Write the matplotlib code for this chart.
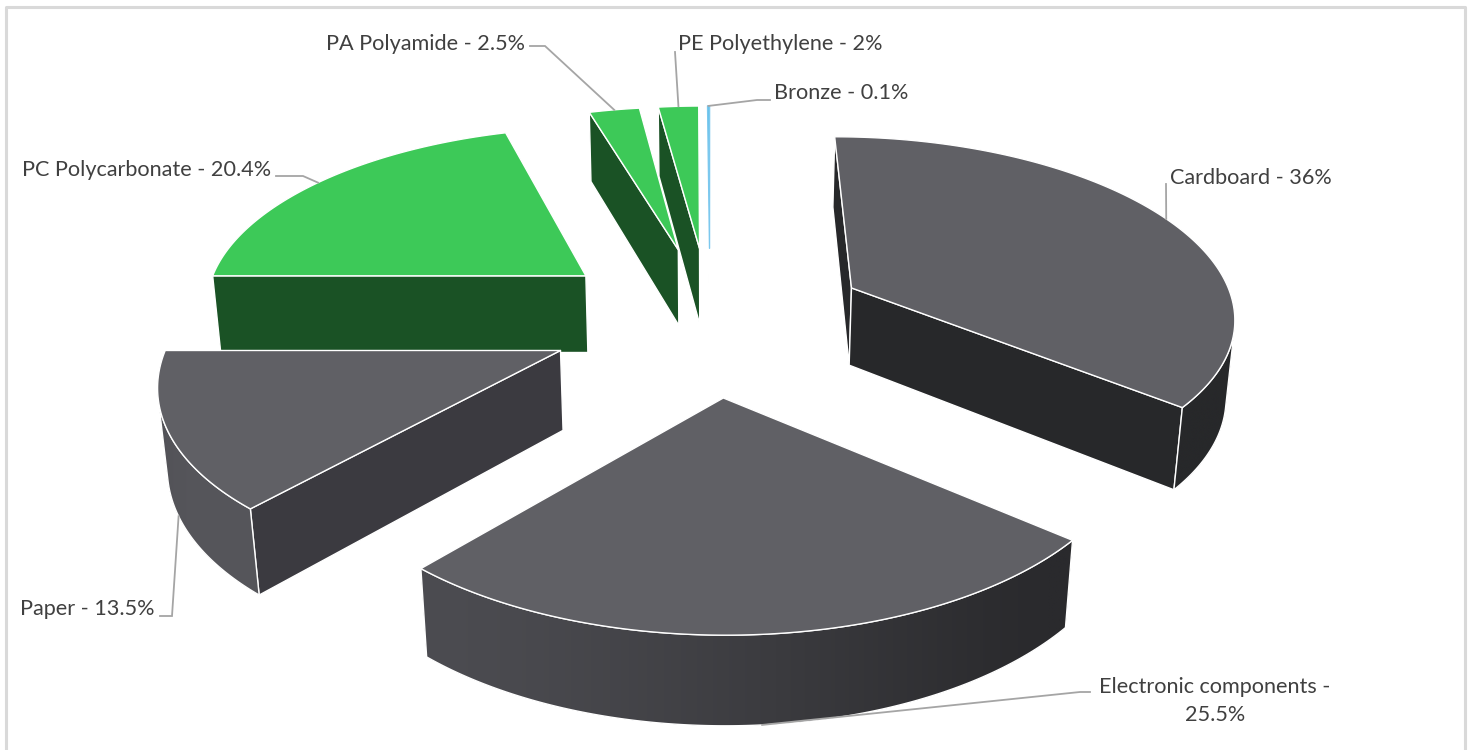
import textwrap
import numpy as np
import matplotlib
matplotlib.use("Agg")
import matplotlib.pyplot as plt
from matplotlib.patches import Polygon

# data
labels = ["Cardboard", "Electronic components", "Paper", "PC Polycarbonate",
          "PA Polyamide", "PE Polyethylene", "Bronze"]
shares = [36, 25.5, 13.5, 20.4, 2.5, 2, 0.1]

# colours per slice
top_colors = ["#606065", "#606065", "#606065", "#3dc958", "#3dc958", "#3dc958", "#5bc0ea"]
side_colors = ["#27282a", "#2a2a2d", "#3b3a40", "#1a5225", "#1a5225", "#1a5225", "#d6eef9"]
wall_light = ["#505055", "#4c4c51", "#56565b", "#22652f", "#22652f", "#22652f", "#d6eef9"]
edge_colors = ["white"] * 6 + ["#7cc8ee"]

# label layout (pixels): text anchor, alignment, leader points from text to elbow
label_pos = [(1170, 178), (1215, 701), (155, 609), (271, 170),
             (525, 44), (678, 44), (774, 93)]
label_ha = ["left", "center", "right", "right", "right", "left", "left"]
leader_pts = [[(1166, 184)],
              [(1090, 692), (1080, 692)],
              [(160, 616), (172, 616)],
              [(276, 176), (303, 176)],
              [(530, 46), (545, 46)],
              [(675, 52)],
              [(770, 100), (757, 100)]]

# 3d view
cx, cy = 710, 319
focal, dist = 2474, 6.41
alpha = np.radians(27.8)
ca, sa = np.cos(alpha), np.sin(alpha)
explode, depth = 0.415, 0.234
cam = np.array([0.0, -dist * ca, dist * sa])


def project(X, Y, Z):
    d = dist + Y * ca - Z * sa
    return cx + focal * X / d, cy - focal * (Y * sa + Z * ca) / d


def facing(p, n):
    return np.dot(np.asarray(p) - cam, n) < 0


def hex2rgb(h):
    return np.array([int(h[i:i + 2], 16) for i in (1, 3, 5)]) / 255.0


def wall_shade(theta_deg, dark, light):
    t = np.clip(np.cos(np.radians(theta_deg - 225)), 0, 1) ** 1.5
    return dark[None, :] + (light - dark)[None, :] * t[:, None]


fig = plt.figure(figsize=(14.72, 7.5), dpi=100)
ax = fig.add_axes([0, 0, 1, 1])
ax.axis("off")

edges = np.concatenate([[0], np.cumsum(shares)]) / sum(shares) * 360.0
slices = []
for i in range(len(shares)):
    t0, t1 = edges[i], edges[i + 1]
    m = np.radians((t0 + t1) / 2)
    ox, oy = explode * np.sin(m), explode * np.cos(m)
    dcam = np.linalg.norm(np.array([ox + 0.5 * np.sin(m), oy + 0.5 * np.cos(m), 0]) - cam)
    slices.append((dcam, i, t0, t1, ox, oy))

anchors = {}
zo = 1
for dcam, i, t0, t1, ox, oy in sorted(slices, reverse=True):
    n = max(3, int((t1 - t0) / 0.5) + 2)
    deg = np.linspace(t0, t1, n)
    ang = np.radians(deg)
    ax_ = ox + np.sin(ang)
    ay_ = oy + np.cos(ang)
    a0, a1 = np.radians(t0), np.radians(t1)
    ec = edge_colors[i]

    # radial walls
    for a, nrm in ((a0, [-np.cos(a0), np.sin(a0), 0]), (a1, [np.cos(a1), -np.sin(a1), 0])):
        p = [ox + 0.5 * np.sin(a), oy + 0.5 * np.cos(a), -depth / 2]
        if facing(p, nrm):
            pts = [project(ox, oy, 0), project(ox + np.sin(a), oy + np.cos(a), 0),
                   project(ox + np.sin(a), oy + np.cos(a), -depth), project(ox, oy, -depth)]
            ax.add_patch(Polygon(pts, closed=True, fc=side_colors[i], ec="white", lw=1.0,
                                 joinstyle="round", zorder=zo))
            zo += 1

    # outer wall, shaded with a gradient clipped to its outline
    dark, light = hex2rgb(side_colors[i]), hex2rgb(wall_light[i])
    vis = []
    for k in range(n - 1):
        b = (ang[k] + ang[k + 1]) / 2
        p = [ox + np.sin(b), oy + np.cos(b), -depth / 2]
        vis.append(facing(p, [np.sin(b), np.cos(b), 0]))
    k = 0
    while k < n - 1:
        if not vis[k]:
            k += 1
            continue
        j = k
        while j < n - 1 and vis[j]:
            j += 1
        run = list(range(k, j + 1))
        outline = [project(ax_[s], ay_[s], 0) for s in run] + \
                  [project(ax_[s], ay_[s], -depth) for s in run[::-1]]
        outline = np.array(outline)
        clip = Polygon(outline, closed=True, fc=side_colors[i], ec="none", zorder=zo)
        ax.add_patch(clip)
        zo += 1
        xs_top = np.array([project(ax_[s], ay_[s], 0)[0] for s in run])
        order = np.argsort(xs_top)
        x0, x1 = outline[:, 0].min(), outline[:, 0].max()
        y0, y1 = outline[:, 1].min(), outline[:, 1].max()
        if x1 - x0 > 2:
            xg = np.linspace(x0, x1, 400)
            bg = np.interp(xg, xs_top[order], deg[run][order])
            img = wall_shade(bg, dark, light)[None, :, :]
            im = ax.imshow(img, extent=(x0, x1, y1, y0), aspect="auto",
                           interpolation="bilinear", zorder=zo)
            im.set_clip_path(clip)
            zo += 1
        ax.add_patch(Polygon(outline, closed=True, fc="none", ec="white", lw=1.0, zorder=zo))
        zo += 1
        k = j

    # top face
    top = [project(ox, oy, 0)] + [project(x, y, 0) for x, y in zip(ax_, ay_)]
    ax.add_patch(Polygon(top, closed=True, fc=top_colors[i], ec=ec, lw=1.0,
                         joinstyle="round", zorder=zo))
    zo += 1

    mid = (a0 + a1) / 2
    z = -depth if np.cos(mid) < 0 else 0
    anchors[i] = project(ox + np.sin(mid), oy + np.cos(mid), z)

ax.set_xlim(0, 1472)
ax.set_ylim(750, 0)

# labels and leader lines
for i, name in enumerate(labels):
    text = textwrap.fill(f"{name} - {shares[i]:g}%", 24)
    ax.text(label_pos[i][0], label_pos[i][1], text, ha=label_ha[i], va="center",
            fontsize=15.6, color="#404040", family="Lato", linespacing=1.45, zorder=zo)
    pts = leader_pts[i] + [anchors[i]]
    ax.plot([p[0] for p in pts], [p[1] for p in pts], color="#a5a5a5", lw=1.3,
            solid_joinstyle="miter", zorder=zo)

# chart frame
ax.plot([6, 6, 1465, 1465], [760, 7, 7, 760], color="#d9d9d9", lw=2.2, clip_on=False,
        zorder=zo)

fig.savefig("out.png", dpi=100, facecolor="white")
